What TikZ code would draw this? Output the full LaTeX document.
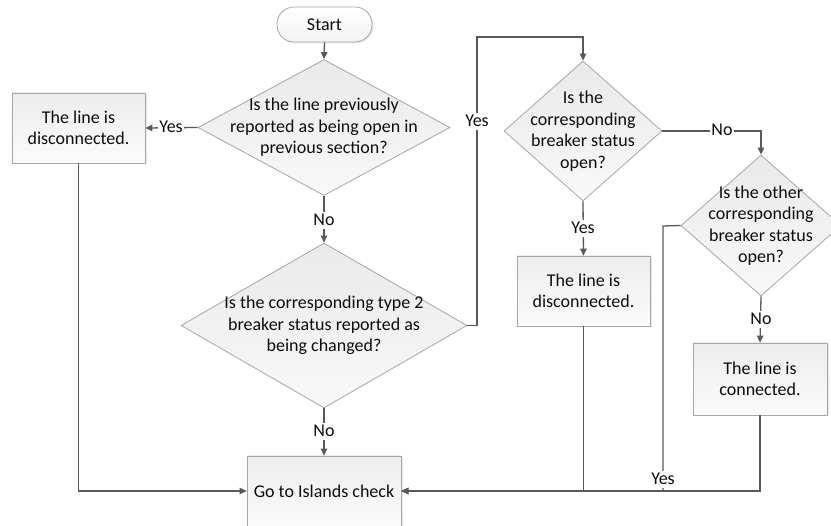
\documentclass[tikz,border=0pt]{standalone}
\usepackage{fontspec}
\setmainfont{Carlito}
\usetikzlibrary{shapes.geometric,arrows.meta,shadows}
\definecolor{linegray}{HTML}{595959}
\definecolor{edgegray}{HTML}{A6A6A6}
\definecolor{inkgray}{HTML}{0D0D0D}
\tikzset{
  base/.style={font=\fontsize{18}{21.5}\selectfont, text=inkgray},
  procbox/.style={base, rectangle, draw=edgegray, line width=0.8pt,
    top color=gray!14, bottom color=gray!3, align=center, inner sep=0pt,
    drop shadow={shadow xshift=1.5pt, shadow yshift=-1.5pt, opacity=0.18}},
  terminal/.style={procbox, rounded corners=17pt, top color=white, bottom color=gray!10},
  decision/.style={diamond, draw=edgegray, line width=0.8pt,
    top color=gray!17, bottom color=gray!5, inner sep=0pt},
  qtext/.style={base, align=center, inner sep=0pt},
  plain/.style={draw=linegray, line width=1.3pt},
  flow/.style={plain, -{Triangle[length=7pt,width=6.5pt]}},
  tag/.style={base, fill=white, inner sep=1.5pt, text height=12pt, text depth=2pt},
}
\begin{document}
\begin{tikzpicture}[x=1pt, y=-1pt]
  \useasboundingbox (0,0) rectangle (831,526);
  \clip (0,0) rectangle (831,526);

  % shapes
  \node[terminal, minimum width=95pt, minimum height=35pt] (start) at (324.5,24.5) {Start};

  \node[decision, minimum width=252pt, minimum height=136pt] (d1) at (324,127.5) {};
  \node[qtext] (d1t) at (d1.center) {Is the line previously\\reported as being open in\\previous section?};

  \node[procbox, minimum width=133pt, minimum height=70pt] (b1) at (78.5,128) {The line is\\disconnected.};

  \node[decision, minimum width=286pt, minimum height=165pt] (d2) at (324,325.5) {};
  \node[qtext] (d2t) at (d2.center) {Is the corresponding type 2\\breaker status reported as\\being changed?};

  \node[decision, minimum width=158pt, minimum height=140pt] (d3) at (583,131) {};
  \node[qtext] (d3t) at (d3.center) {Is the\\corresponding\\breaker status\\open?};

  \node[procbox, minimum width=133pt, minimum height=70pt] (b2) at (583.5,291) {The line is\\disconnected.};

  \node[decision, minimum width=160pt, minimum height=141pt] (d4) at (761,225.5) {};
  \node[qtext] (d4t) at (d4.center) {Is the other\\corresponding\\breaker status\\open?};

  \node[procbox, minimum width=134pt, minimum height=72pt] (b3) at (760,379) {The line is\\connected.};

  \node[procbox, minimum width=154pt, minimum height=70pt] (go) at (324,491) {Go to Islands check};

  % bends
  \coordinate (k1) at (477,37);
  \coordinate (k2) at (663,226);

  % connectors
  \draw[flow] (start.south) -- (d1.north);
  \draw[flow] (d1.west) -- (b1.east);
  \draw[flow] (d1.south) -- (d2.north);
  \draw[flow] (d2.south) -- (go.north);
  \draw[flow] (b1.south) |- (go.west);
  \draw[flow] (d2.east) -| (k1) -| (d3.north);
  \draw[flow] (d3.south) -- (b2.north);
  \draw[flow] (d3.east) -| (d4.north);
  \draw[flow] (d4.south) -- (b3.north);
  \draw[flow] (b2.south) |- (go.east);
  \draw[flow] (b3.south) |- (go.east);
  \draw[flow] (d4.west) -- (k2) |- (go.east);

  % branch labels
  \node[tag] (l1) at (171,127.5) {Yes};
  \node[tag] (l2) at (324,221) {No};
  \node[tag] (l3) at (324,432) {No};
  \node[tag] (l4) at (477,122) {Yes};
  \node[tag] (l5) at (583,229) {Yes};
  \node[tag] (l6) at (722,131) {No};
  \node[tag] (l7) at (761,320) {No};
  \node[tag] (l8) at (663,480) {Yes};
\end{tikzpicture}
\end{document}
